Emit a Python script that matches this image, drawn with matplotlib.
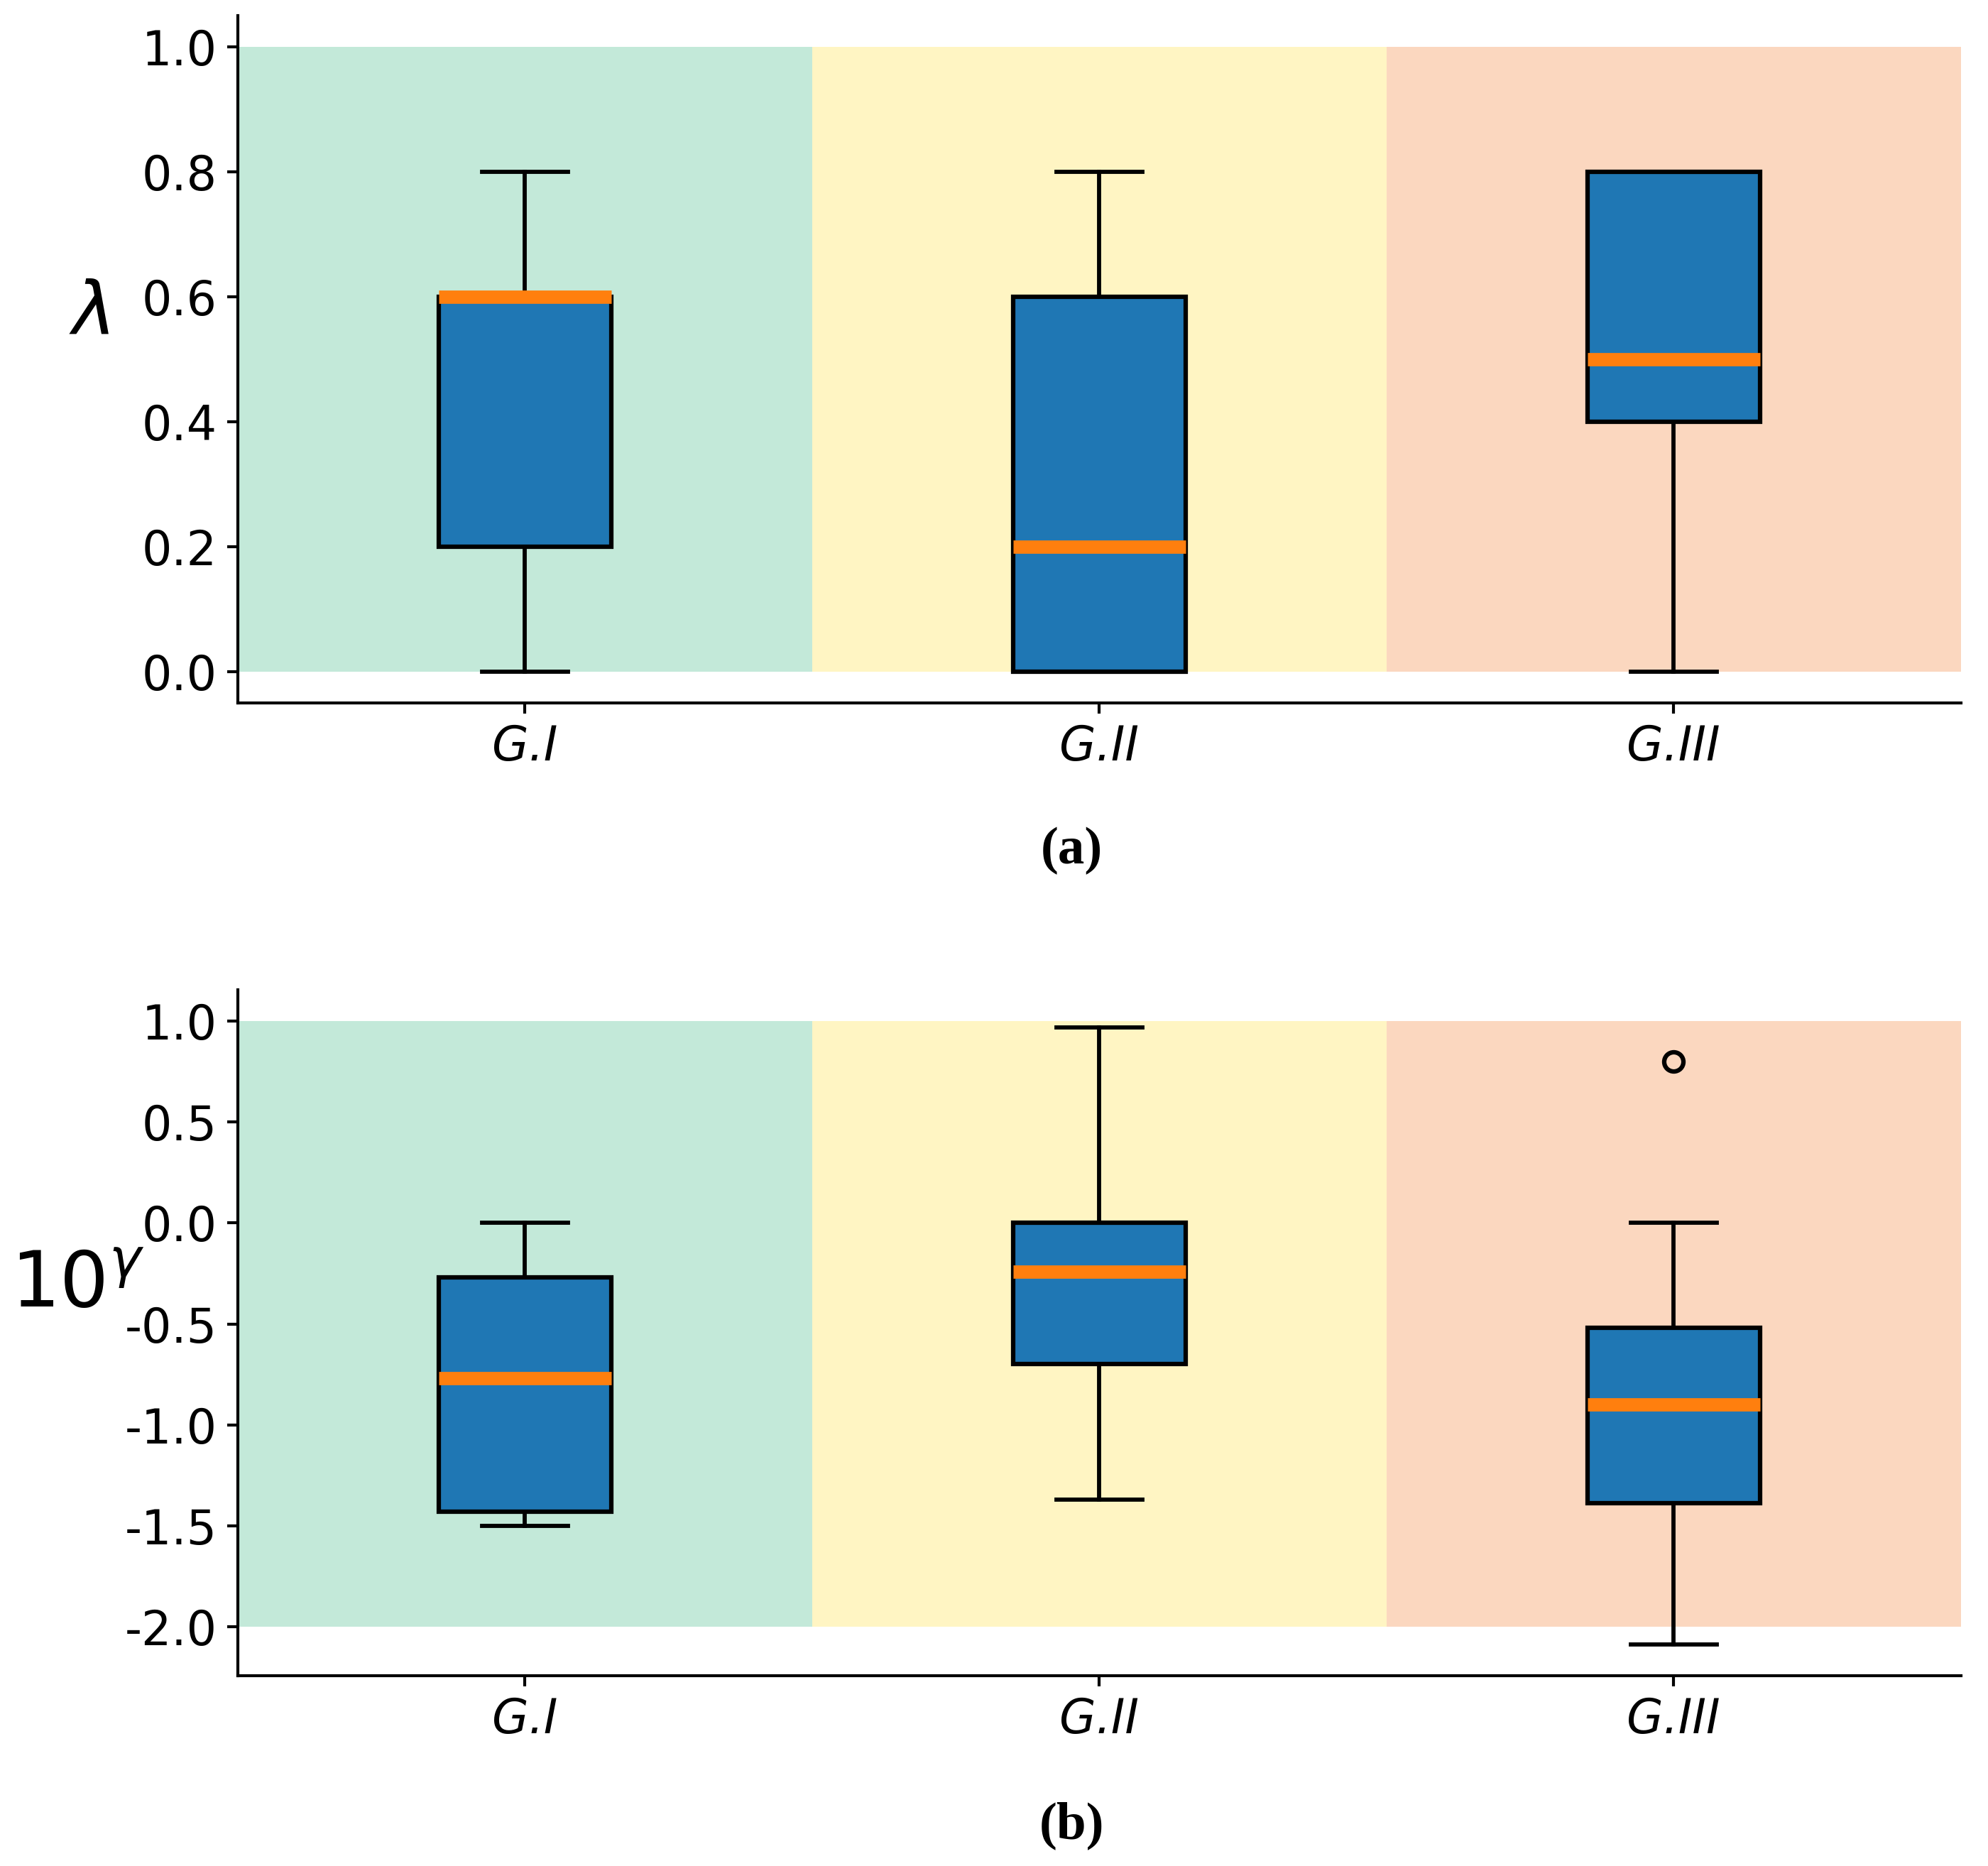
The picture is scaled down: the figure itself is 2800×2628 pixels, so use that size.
import matplotlib
matplotlib.use("Agg")
import matplotlib.pyplot as plt
from matplotlib.ticker import FormatStrFormatter

plt.rcParams['axes.unicode_minus'] = False
plt.rcParams['mathtext.fontset'] = 'dejavusans'

groups = ["G.I", "G.II", "G.III"]
region_colors = ["#c3e9d9", "#fff5c3", "#fbd7bf"]

# panel (a): lambda
lam_whislo = [0.0, 0.0, 0.0]
lam_q1 = [0.2, 0.0, 0.4]
lam_med = [0.6, 0.2, 0.5]
lam_q3 = [0.6, 0.6, 0.8]
lam_whishi = [0.8, 0.8, 0.8]
lam_fliers = [[], [], []]
lam_band = (0.0, 1.0)
lam_ticks = [0.0, 0.2, 0.4, 0.6, 0.8, 1.0]

# panel (b): 10^gamma
gam_whislo = [-1.50, -1.37, -2.09]
gam_q1 = [-1.43, -0.70, -1.39]
gam_med = [-0.77, -0.24, -0.90]
gam_q3 = [-0.27, 0.0, -0.52]
gam_whishi = [0.0, 0.97, 0.0]
gam_fliers = [[], [], [0.80]]
gam_band = (-2.0, 1.0)
gam_ticks = [-2.0, -1.5, -1.0, -0.5, 0.0, 0.5, 1.0]

fig = plt.figure(figsize=(2800/300, 2628/300), dpi=300)
ax1 = fig.add_axes([0.1196, 0.6232, 0.8667, 0.3684])
ax2 = fig.add_axes([0.1196, 0.1019, 0.8667, 0.3675])

def panel(ax, whislo, q1, med, q3, whishi, fliers, band, ticks, ylabel, ylx, yly, ylsize):
    positions = list(range(1, len(groups) + 1))
    for p, c in zip(positions, region_colors):
        ax.fill_between([p - 0.5, p + 0.5], band[0], band[1], color=c, lw=0, zorder=0)
    stats = []
    for i, g in enumerate(groups):
        stats.append(dict(label=g, whislo=whislo[i], q1=q1[i], med=med[i],
                          q3=q3[i], whishi=whishi[i], fliers=fliers[i]))
    ax.bxp(stats, positions=positions, widths=0.3, patch_artist=True,
           boxprops=dict(facecolor="#1f77b4", edgecolor="black", linewidth=1.5),
           medianprops=dict(color="#ff7f0e", linewidth=4.5),
           whiskerprops=dict(color="black", linewidth=1.4),
           capprops=dict(color="black", linewidth=1.4),
           flierprops=dict(marker="o", markerfacecolor="none", markeredgecolor="black",
                           markersize=6.5, markeredgewidth=1.5))
    ax.set_xlim(0.5, len(groups) + 0.5)
    ax.set_xticks(positions)
    ax.set_xticklabels(groups, fontsize=16, style="italic")
    ax.set_yticks(ticks)
    ax.tick_params(axis="y", labelsize=16)
    ax.tick_params(width=1.0, length=3.5)
    ax.yaxis.set_major_formatter(FormatStrFormatter("%.1f"))
    ax.spines["top"].set_visible(False)
    ax.spines["right"].set_visible(False)
    ax.spines["left"].set_linewidth(1.0)
    ax.spines["bottom"].set_linewidth(1.0)
    ax.set_ylabel(ylabel, rotation=0, fontsize=ylsize, va="center", ha="center")
    ax.yaxis.set_label_coords(ylx, yly)

panel(ax1, lam_whislo, lam_q1, lam_med, lam_q3, lam_whishi, lam_fliers, lam_band,
      lam_ticks, r"$\lambda$", -0.086, 0.566, 25)
panel(ax2, gam_whislo, gam_q1, gam_med, gam_q3, gam_whishi, gam_fliers, gam_band,
      gam_ticks, r"$10^{\gamma}$", -0.093, 0.568, 26)

fig.text(0.539, 0.5442, "(a)", fontsize=18, fontweight="bold",
         family="Liberation Serif", ha="center", va="center")
fig.text(0.539, 0.0217, "(b)", fontsize=18, fontweight="bold",
         family="Liberation Serif", ha="center", va="center")

fig.savefig("out.png", dpi=300)
